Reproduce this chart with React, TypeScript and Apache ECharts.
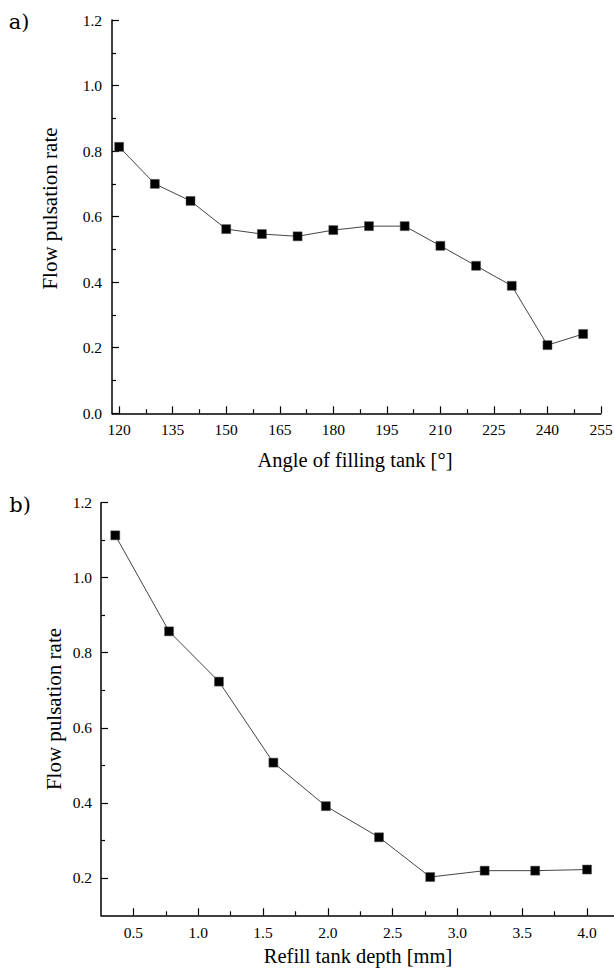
import React, { useEffect, useRef } from "react";
import * as echarts from "echarts";

// Panel a) — angle of filling tank vs flow pulsation rate
const anglesA = [120, 130, 140, 150, 160, 170, 180, 190, 200, 210, 220, 230, 240, 250];
const rateA = [0.813, 0.70, 0.648, 0.562, 0.547, 0.54, 0.559, 0.571, 0.571, 0.511, 0.45, 0.389, 0.208, 0.242];
const xTicksA = [120, 135, 150, 165, 180, 195, 210, 225, 240, 255];
const xMinorA = [127.5, 142.5, 157.5, 172.5, 187.5, 202.5, 217.5, 232.5, 247.5];
const yTicksA = [0, 0.2, 0.4, 0.6, 0.8, 1.0, 1.2];

// Panel b) — refill tank depth vs flow pulsation rate
const depthB = [0.36, 0.775, 1.16, 1.58, 1.985, 2.395, 2.79, 3.21, 3.6, 4.0];
const rateB = [1.113, 0.857, 0.723, 0.507, 0.391, 0.308, 0.202, 0.219, 0.219, 0.222];
const xTicksB = [0.5, 1.0, 1.5, 2.0, 2.5, 3.0, 3.5, 4.0];
const xMinorB = [0.75, 1.25, 1.75, 2.25, 2.75, 3.25, 3.75];
const yTicksB = [0.2, 0.4, 0.6, 0.8, 1.0, 1.2];
const yMinorB = [0.3, 0.5, 0.7, 0.9, 1.1];

const FONT = "Liberation Serif";
const AXIS_LINE = { show: true, onZero: false, lineStyle: { color: "#000", width: 1.5 } };
const TICK_STYLE = { color: "#000", width: 1.2 };
const TICK_FS = 15.5;

export default function App() {
  const ref = useRef<HTMLDivElement>(null);

  useEffect(() => {
    if (!ref.current) return;
    const chart = echarts.init(ref.current, null, { renderer: "svg" });

    const fix1 = (v: number) => v.toFixed(1);
    const noLabel = { show: false };

    const option: any = {
      animation: false,
      backgroundColor: "#fff",
      grid: [
        { left: 112, right: 13, top: 20, bottom: 974 - 413.3, containLabel: false },
        { left: 101, right: 0, top: 502.7, bottom: 974 - 915.3, containLabel: false },
      ],
      xAxis: [
        {
          type: "value", gridIndex: 0, min: 118, max: 255, position: "bottom",
          axisLine: AXIS_LINE,
          axisTick: { show: true, inside: true, length: 7, lineStyle: TICK_STYLE, customValues: xTicksA },
          axisLabel: noLabel,
          splitLine: { show: false },
        },
        {
          type: "value", gridIndex: 0, min: 118, max: 255, position: "bottom",
          axisLine: { show: false },
          axisTick: { show: true, inside: true, length: 4, lineStyle: TICK_STYLE, customValues: xMinorA },
          axisLabel: noLabel,
          splitLine: { show: false },
        },
        {
          type: "value", gridIndex: 1, min: 0.25, max: 4.208, position: "bottom",
          axisLine: AXIS_LINE,
          axisTick: { show: true, inside: true, length: 7, lineStyle: TICK_STYLE, customValues: xTicksB },
          axisLabel: noLabel,
          splitLine: { show: false },
        },
        {
          type: "value", gridIndex: 1, min: 0.25, max: 4.208, position: "bottom",
          axisLine: { show: false },
          axisTick: { show: true, inside: true, length: 4, lineStyle: TICK_STYLE, customValues: xMinorB },
          axisLabel: noLabel,
          splitLine: { show: false },
        },
      ],
      yAxis: [
        {
          type: "value", gridIndex: 0, min: 0, max: 1.2, interval: 0.2, position: "left",
          axisLine: AXIS_LINE,
          axisTick: { show: true, inside: true, length: 7, lineStyle: TICK_STYLE },
          minorTick: { show: true, splitNumber: 2, length: 4, lineStyle: TICK_STYLE },
          axisLabel: noLabel,
          splitLine: { show: false },
        },
        {
          type: "value", gridIndex: 1, min: 0.1, max: 1.2, position: "left",
          axisLine: AXIS_LINE,
          axisTick: { show: true, inside: true, length: 7, lineStyle: TICK_STYLE, customValues: yTicksB },
          axisLabel: noLabel,
          splitLine: { show: false },
        },
        {
          type: "value", gridIndex: 1, min: 0.1, max: 1.2, position: "left",
          axisLine: { show: false },
          axisTick: { show: true, inside: true, length: 4, lineStyle: TICK_STYLE, customValues: yMinorB },
          axisLabel: noLabel,
          splitLine: { show: false },
        },
      ],
      series: [
        {
          type: "line", xAxisIndex: 0, yAxisIndex: 0,
          data: anglesA.map((x, i) => [x, rateA[i]]),
          symbol: "rect", symbolSize: 9,
          itemStyle: { color: "#000", borderColor: "#555", borderWidth: 0.5 },
          lineStyle: { color: "#444", width: 1 },
        },
        {
          type: "line", xAxisIndex: 2, yAxisIndex: 1,
          data: depthB.map((x, i) => [x, rateB[i]]),
          symbol: "rect", symbolSize: 9,
          itemStyle: { color: "#000", borderColor: "#555", borderWidth: 0.5 },
          lineStyle: { color: "#444", width: 1 },
        },
      ],
    };

    chart.setOption(option);

    const txt = (text: string, x: number, y: number, align: string, extra: any = {}) => ({
      type: "text",
      x,
      y,
      silent: true,
      ...extra,
      style: { text, fontFamily: FONT, fontSize: TICK_FS, fill: "#000", align, verticalAlign: "middle", ...(extra.style || {}) },
    });

    // Axis tick labels placed through the axes' own scales
    const xAxisA = chart.convertToPixel({ yAxisIndex: 0 }, 0) as number;
    const xAxisB = chart.convertToPixel({ yAxisIndex: 1 }, 0.1) as number;
    const yAxisAx = chart.convertToPixel({ xAxisIndex: 0 }, 118) as number;
    const yAxisBx = chart.convertToPixel({ xAxisIndex: 2 }, 0.25) as number;

    const labels: any[] = [];
    xTicksA.forEach((v) => {
      labels.push(txt(String(v), chart.convertToPixel({ xAxisIndex: 0 }, v) as number, xAxisA + 16, "center"));
    });
    xTicksB.forEach((v) => {
      labels.push(txt(fix1(v), chart.convertToPixel({ xAxisIndex: 2 }, v) as number, xAxisB + 17, "center"));
    });
    yTicksA.forEach((v) => {
      labels.push(txt(fix1(v), yAxisAx - 10, chart.convertToPixel({ yAxisIndex: 0 }, v) as number, "right"));
    });
    yTicksB.forEach((v) => {
      labels.push(txt(fix1(v), yAxisBx - 9, chart.convertToPixel({ yAxisIndex: 1 }, v) as number, "right"));
    });

    const titles: any[] = [
      { type: "text", x: 19, y: 22, style: { text: "a)", fontFamily: "DejaVu Serif", fontSize: 21, fill: "#000", align: "center", verticalAlign: "middle" } },
      { type: "text", x: 20, y: 505, style: { text: "b)", fontFamily: "DejaVu Serif", fontSize: 21, fill: "#000", align: "center", verticalAlign: "middle" } },
      { type: "text", x: 355, y: 460, style: { text: "Angle of filling tank [°]", fontFamily: FONT, fontSize: 20.5, fill: "#000", align: "center", verticalAlign: "middle" } },
      { type: "text", x: 358, y: 956, style: { text: "Refill tank depth [mm]", fontFamily: FONT, fontSize: 20.5, fill: "#000", align: "center", verticalAlign: "middle" } },
      { type: "text", x: 50, y: 208.5, rotation: Math.PI / 2, style: { text: "Flow pulsation rate", fontFamily: FONT, fontSize: 21, fill: "#000", align: "center", verticalAlign: "middle" } },
      { type: "text", x: 53.5, y: 709, rotation: Math.PI / 2, style: { text: "Flow pulsation rate", fontFamily: FONT, fontSize: 21, fill: "#000", align: "center", verticalAlign: "middle" } },
    ];

    chart.setOption({ graphic: [...titles, ...labels] });
    return () => chart.dispose();
  }, []);

  return (
    <div
      ref={ref}
      style={{ position: "fixed", left: 0, top: 0, width: 614, height: 974, background: "#fff" }}
    />
  );
}
